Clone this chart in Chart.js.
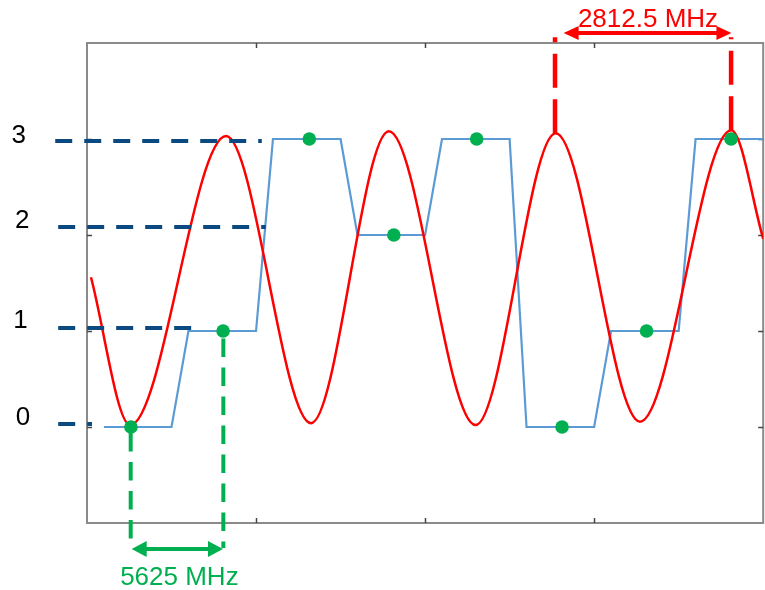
<!DOCTYPE html>
<html>
<head>
<meta charset="utf-8">
<script src="https://cdn.jsdelivr.net/npm/chart.js@4.4.1/dist/chart.umd.min.js"></script>
<style>
  html, body { margin: 0; padding: 0; background: #fff; overflow: hidden; }
  #wrap { width: 765px; height: 590px; overflow: hidden; }
  canvas { display: block; }
</style>
</head>
<body>
<div id="wrap"><canvas id="c" width="770" height="590"></canvas></div>
<script>
// ---- data ----
const timeTicks = [2, 4, 6];
const levelTicks = [0, 1, 2, 3];

// 4-level symbol waveform (blue)
const stepX     = [0.2, 1.0, 1.2, 2.0, 2.2, 3.0, 3.2, 4.0, 4.2, 5.0, 5.2, 6.0, 6.2, 7.0, 7.2, 8.0];
const stepLevel = [0,   0,   1,   1,   3,   3,   2,   2,   3,   3,   0,   0,   1,   1,   3,   3];

// sampled symbols (green dots)
const symbolX     = [0.52, 1.61, 2.63, 3.63, 4.61, 5.62, 6.62, 7.62];
const symbolLevel = [0, 1, 3, 2, 3, 0, 1, 3];

// carrier (red) – start, extrema, end
const carrierX     = [0.047, 0.511, 1.645, 2.651, 3.571, 4.597, 5.545, 6.543, 7.622, 8.0];
const carrierLevel = [1.56,  0.02,  3.03,  0.04,  3.08,  0.02,  3.06,  0.055, 3.09,  1.96];

// level guide lines (navy dashed) and their labels
const levelLabels  = ['3', '2', '1', '0'];
const guideLevel   = [2.98, 2.083, 1.03, 0.03];
const guideStartX  = [-0.376, -0.341, -0.341, -0.341];
const guideEndX    = [2.068, 2.115, 1.233, 0.059];
const labelX       = [-0.807, -0.767, -0.787, -0.758];
const labelLevel   = [2.958, 2.073, 1.031, 0.021];

// symbol-period marker (green)
const symDropX      = [0.517, 1.613];
const symDropTop    = [0, 1];
const symDropBottom = [-1.177, -1.26];
const symArrowX     = [0.529, 1.609];
const symArrowLevel = -1.27;
const symText       = '5625 MHz';
const symTextPos    = [1.093, -1.646];

// carrier-period marker (red)
const carDropX      = [5.537, 7.62];
const carDropBottom = [3.06, 3.09];
const carDropTop    = [4.06, 4.06];
const carArrowX     = [5.639, 7.624];
const carArrowLevel = 4.104;
const carText       = '2812.5 MHz';
const carTextPos    = [6.637, 4.167];

// ---- colours ----
const NAVY = '#0B4A80', BLUE = '#5B9BD5', RED = '#FF0000', GREEN = '#00B050';
const FONT = '26px "Liberation Sans", Arial, sans-serif';

const pts = (xs, ys) => xs.map((x, i) => ({x, y: Array.isArray(ys) ? ys[i] : ys}));

const datasets = [];
datasets.push({
  label: 'symbols', data: pts(symbolX, symbolLevel), showLine: false,
  pointRadius: 6.8, pointBackgroundColor: GREEN, pointBorderWidth: 0, order: 0
});
guideLevel.forEach((lv, i) => datasets.push({
  label: 'guide' + i, data: [{x: guideStartX[i], y: lv}, {x: guideEndX[i], y: lv}],
  borderColor: NAVY, borderWidth: 4, borderDash: [17, 12], pointRadius: 0, clip: false, order: 1
}));
symDropX.forEach((x, i) => datasets.push({
  label: 'symdrop' + i, data: [{x, y: symDropTop[i]}, {x, y: symDropBottom[i]}],
  borderColor: GREEN, borderWidth: 4, borderDash: [18.5, 10.5], borderDashOffset: i === 0 ? 23 : 21.5,
  pointRadius: 0, clip: false, order: 1
}));
carDropX.forEach((x, i) => datasets.push({
  label: 'cardrop' + i, data: [{x, y: carDropBottom[i]}, {x, y: carDropTop[i]}],
  borderColor: RED, borderWidth: 4.5, borderDash: [34, 11.5], pointRadius: 0, clip: false, order: 1
}));
datasets.push({
  label: 'carrier', data: pts(carrierX, carrierLevel), borderColor: RED, borderWidth: 2.5,
  cubicInterpolationMode: 'monotone', pointRadius: 0, order: 2
});
datasets.push({
  label: 'steps', data: pts(stepX, stepLevel), borderColor: BLUE, borderWidth: 2.2,
  tension: 0, pointRadius: 0, order: 3
});

function arrow(ctx, x1, x2, y, color, headLen, headHalf, shaft) {
  ctx.save();
  ctx.strokeStyle = color; ctx.fillStyle = color; ctx.lineWidth = shaft;
  ctx.beginPath(); ctx.moveTo(x1 + headLen - 1, y); ctx.lineTo(x2 - headLen + 1, y); ctx.stroke();
  ctx.beginPath(); ctx.moveTo(x1, y); ctx.lineTo(x1 + headLen, y - headHalf); ctx.lineTo(x1 + headLen, y + headHalf); ctx.closePath(); ctx.fill();
  ctx.beginPath(); ctx.moveTo(x2, y); ctx.lineTo(x2 - headLen, y - headHalf); ctx.lineTo(x2 - headLen, y + headHalf); ctx.closePath(); ctx.fill();
  ctx.restore();
}

const decor = {
  id: 'decor',
  beforeDatasetsDraw(chart) {
    const {ctx, chartArea: a, scales: {x, y}} = chart;
    ctx.save();
    ctx.strokeStyle = '#8a8a8a'; ctx.lineWidth = 2;
    ctx.strokeRect(a.left, a.top, a.right - a.left, a.bottom - a.top);
    ctx.strokeStyle = '#444'; ctx.lineWidth = 1.5;
    const seg = (x1, y1, x2, y2) => { ctx.beginPath(); ctx.moveTo(x1, y1); ctx.lineTo(x2, y2); ctx.stroke(); };
    timeTicks.forEach(v => {
      const px = Math.round(x.getPixelForValue(v)) + 0.5;
      seg(px, a.bottom, px, a.bottom - 5);
      seg(px, a.top, px, a.top + 5);
    });
    levelTicks.forEach(v => {
      const py = Math.round(y.getPixelForValue(v)) + 0.5;
      seg(a.left, py, a.left + 5, py);
      seg(a.right, py, a.right - 5, py);
    });
    ctx.restore();
  },
  afterDatasetsDraw(chart) {
    const {ctx, scales: {x, y}} = chart;
    arrow(ctx, x.getPixelForValue(symArrowX[0]), x.getPixelForValue(symArrowX[1]),
          y.getPixelForValue(symArrowLevel), GREEN, 15, 8, 4);
    arrow(ctx, x.getPixelForValue(carArrowX[0]), x.getPixelForValue(carArrowX[1]),
          y.getPixelForValue(carArrowLevel), RED, 15, 7, 4);
    ctx.save();
    ctx.font = FONT; ctx.textAlign = 'center'; ctx.textBaseline = 'alphabetic';
    ctx.fillStyle = GREEN;
    ctx.fillText(symText, x.getPixelForValue(symTextPos[0]), y.getPixelForValue(symTextPos[1]));
    ctx.fillStyle = RED;
    ctx.fillText(carText, x.getPixelForValue(carTextPos[0]), y.getPixelForValue(carTextPos[1]));
    ctx.fillStyle = '#000';
    levelLabels.forEach((t, i) => ctx.fillText(t, x.getPixelForValue(labelX[i]), y.getPixelForValue(labelLevel[i])));
    ctx.restore();
  }
};

new Chart(document.getElementById('c'), {
  type: 'line',
  data: { datasets },
  options: {
    responsive: false, animation: false, devicePixelRatio: 1,
    layout: { padding: { left: 87, top: 43, right: 2, bottom: 67 } },
    scales: {
      x: { type: 'linear', min: 0, max: 8, display: false },
      y: { type: 'linear', min: -1, max: 4, display: false }
    },
    plugins: { legend: { display: false }, tooltip: { enabled: false } },
    elements: { line: { fill: false } }
  },
  plugins: [decor]
});
</script>
</body>
</html>
